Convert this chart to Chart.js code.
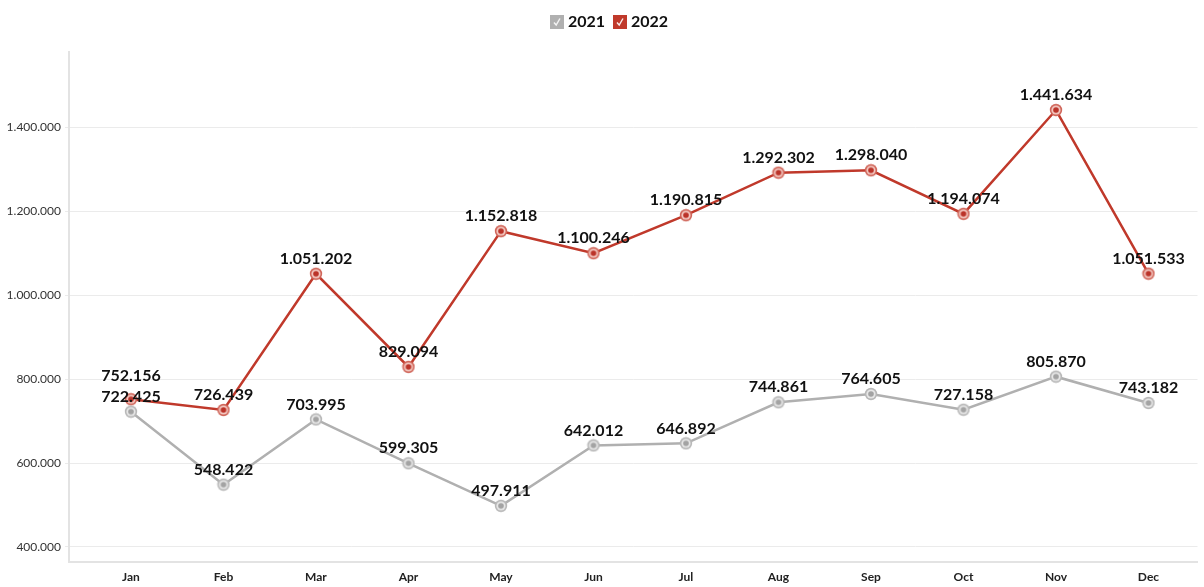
<!DOCTYPE html>
<html lang="en">
<head>
    <meta charset="UTF-8">
    <title>2021 vs 2022</title>
    <script src="https://cdn.jsdelivr.net/npm/chart.js"></script>
    <style>
        body {
            margin: 0;
            padding: 0;
            background-color: #ffffff;
        }

        .chart-container {
            width: 1204px;
            height: 587px;
        }
    </style>
</head>
<body>
    <div class="chart-container">
        <canvas id="lineChart"></canvas>
    </div>

    <script>
        // Data
        const months = ["Jan", "Feb", "Mar", "Apr", "May", "Jun", "Jul", "Aug", "Sep", "Oct", "Nov", "Dec"];
        const seriesNames = ["2021", "2022"];
        const values2021 = [722425, 548422, 703995, 599305, 497911, 642012, 646892, 744861, 764605, 727158, 805870, 743182];
        const values2022 = [752156, 726439, 1051202, 829094, 1152818, 1100246, 1190815, 1292302, 1298040, 1194074, 1441634, 1051533];
        const yTicks = [400000, 600000, 800000, 1000000, 1200000, 1400000];

        const grey = '#b0b0b0';
        const red = '#c0392b';

        // number format with dots as thousand separators
        function fmt(v) {
            return String(Math.round(v)).replace(/\B(?=(\d{3})+(?!\d))/g, '.');
        }

        // point marker: coloured ring, pale inside, dark dot in the middle
        function makePoint(ring, inner, dot) {
            const c = document.createElement('canvas');
            c.width = 14; c.height = 14;
            const g = c.getContext('2d');
            g.beginPath(); g.arc(7, 7, 6.2, 0, Math.PI * 2); g.fillStyle = ring; g.fill();
            g.beginPath(); g.arc(7, 7, 4.6, 0, Math.PI * 2); g.fillStyle = inner; g.fill();
            g.beginPath(); g.arc(7, 7, 2.8, 0, Math.PI * 2); g.fillStyle = dot; g.fill();
            return c;
        }

        // legend box with a check mark
        function makeCheck(color) {
            const c = document.createElement('canvas');
            c.width = 14; c.height = 14;
            const g = c.getContext('2d');
            g.fillStyle = color;
            g.fillRect(0, 0, 14, 14);
            g.strokeStyle = 'rgba(255,255,255,0.9)';
            g.lineWidth = 1.4;
            g.beginPath();
            g.moveTo(4, 7.5); g.lineTo(6.2, 10); g.lineTo(10, 3.5);
            g.stroke();
            return c;
        }

        const pointImgs = [makePoint('#b8b8b8', '#e6e6e6', '#a3a3a3'), makePoint('#d0665a', '#f2c6bf', '#bb3329')];
        const legendImgs = [makeCheck(grey), makeCheck(red)];

        const toXY = arr => arr.map((v, i) => ({ x: i, y: v }));

        // value labels above the points, nudged apart when they collide
        const valueLabels = {
            id: 'valueLabels',
            afterDatasetsDraw(chart) {
                const ctx = chart.ctx;
                ctx.save();
                ctx.font = 'bold 16px Lato';
                ctx.fillStyle = '#111111';
                ctx.textAlign = 'center';
                ctx.textBaseline = 'middle';
                for (let i = 0; i < months.length; i++) {
                    const items = [];
                    chart.data.datasets.forEach((ds, d) => {
                        const el = chart.getDatasetMeta(d).data[i];
                        items.push({ x: el.x, y: el.y - 15, text: fmt(ds.data[i].y) });
                    });
                    items.sort((a, b) => b.y - a.y);
                    for (let k = 1; k < items.length; k++) {
                        if (items[k - 1].y - items[k].y < 21) items[k].y = items[k - 1].y - 21;
                    }
                    items.forEach(it => ctx.fillText(it.text, it.x, it.y));
                }
                ctx.restore();
            }
        };

        // fixed legend block height, and legend nudged like the reference
        const legendTweaks = {
            id: 'legendTweaks',
            beforeInit(chart) {
                const fit = chart.legend.fit;
                chart.legend.fit = function () {
                    fit.bind(chart.legend)();
                    this.height = 52;
                };
                const draw = chart.legend.draw;
                chart.legend.draw = function () {
                    chart.ctx.save();
                    chart.ctx.translate(9, 2);
                    draw.bind(chart.legend)();
                    chart.ctx.restore();
                };
            }
        };

        const ctx = document.getElementById('lineChart').getContext('2d');
        const chart = new Chart(ctx, {
            type: 'line',
            data: {
                datasets: [{
                    label: seriesNames[0],
                    data: toXY(values2021),
                    borderColor: grey,
                    backgroundColor: grey,
                    borderWidth: 2.5,
                    pointStyle: pointImgs[0],
                    tension: 0
                }, {
                    label: seriesNames[1],
                    data: toXY(values2022),
                    borderColor: red,
                    backgroundColor: red,
                    borderWidth: 2.5,
                    pointStyle: pointImgs[1],
                    tension: 0
                }]
            },
            options: {
                responsive: true,
                maintainAspectRatio: false,
                animation: false,
                layout: {
                    padding: 0
                },
                plugins: {
                    tooltip: { enabled: false },
                    legend: {
                        position: 'top',
                        labels: {
                            usePointStyle: true,
                            pointStyleWidth: 6,
                            boxHeight: 14,
                            padding: 12,
                            color: '#111111',
                            font: { family: 'Lato', size: 16, weight: 'bold' },
                            generateLabels(chart) {
                                const items = Chart.defaults.plugins.legend.labels.generateLabels(chart);
                                items.forEach((it, i) => { it.pointStyle = legendImgs[i]; });
                                return items;
                            }
                        }
                    }
                },
                scales: {
                    x: {
                        type: 'linear',
                        min: -0.67,
                        max: 11.53,
                        afterBuildTicks(scale) {
                            scale.ticks = months.map((m, i) => ({ value: i }));
                        },
                        afterFit(scale) {
                            scale.height = 25;
                        },
                        ticks: {
                            padding: 0,
                            color: '#222222',
                            font: { family: 'Lato', size: 12, weight: 'bold' },
                            callback: v => months[v]
                        },
                        grid: { display: false },
                        border: { color: '#e3e3e3', width: 2 }
                    },
                    y: {
                        min: 364000,
                        max: 1580000,
                        afterBuildTicks(scale) {
                            scale.ticks = yTicks.map(v => ({ value: v }));
                        },
                        afterFit(scale) {
                            scale.width = 69;
                        },
                        ticks: {
                            padding: 4,
                            color: '#333333',
                            font: { family: 'Lato', size: 12 },
                            callback: v => fmt(v)
                        },
                        grid: {
                            color: '#ebebeb',
                            tickLength: 4
                        },
                        border: { color: '#e3e3e3', width: 2 }
                    }
                }
            },
            plugins: [valueLabels, legendTweaks]
        });
    </script>
</body>
</html>
